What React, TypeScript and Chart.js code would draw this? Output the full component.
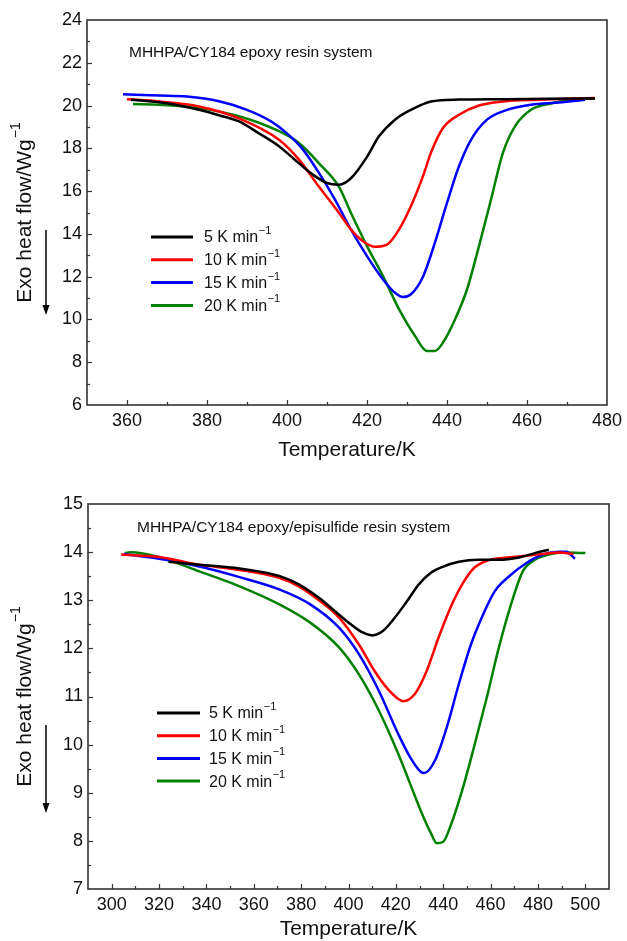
import React, { useEffect, useRef } from "react";
import { Chart, registerables } from "chart.js";

Chart.register(...registerables);

const seriesLabels = ["5 K min", "10 K min", "15 K min", "20 K min"];
const seriesColors = ["#000000", "#ff0000", "#0000ff", "#008000"];

// ---- Top chart: MHHPA/CY184 epoxy resin system ----
const topT5 = [361, 368, 373, 378, 383, 388, 393, 398, 403, 407, 410, 413, 416, 420, 423, 427, 431, 436, 443, 455, 465, 477];
const topV5 = [20.27, 20.15, 20.0, 19.8, 19.55, 19.26, 18.7, 18.1, 17.3, 16.7, 16.38, 16.3, 16.6, 17.6, 18.56, 19.34, 19.8, 20.19, 20.28, 20.3, 20.32, 20.33];
const topT10 = [360, 368, 378, 388, 398, 403, 408, 413, 416, 419, 422, 425, 428, 431, 434, 436, 439, 443, 448, 454, 463, 477];
const topV10 = [20.3, 20.19, 19.96, 19.4, 18.4, 17.47, 16.2, 14.98, 14.2, 13.66, 13.4, 13.5, 14.2, 15.3, 16.7, 17.8, 18.95, 19.57, 20.0, 20.19, 20.27, 20.35];
const topT15 = [359, 368, 375, 383, 390, 396, 400, 404, 408, 412, 416, 420, 424, 427, 429, 431, 434, 437, 440, 443, 446, 450, 455, 461, 468, 474.5];
const topV15 = [20.53, 20.47, 20.42, 20.2, 19.8, 19.26, 18.7, 17.94, 16.85, 15.6, 14.2, 12.96, 11.87, 11.25, 11.05, 11.18, 12.0, 13.6, 15.45, 17.16, 18.4, 19.34, 19.8, 20.04, 20.14, 20.27];
const topT20 = [361.5, 368, 378, 388, 398, 403, 408, 413, 416, 420, 424, 428, 432, 435, 437, 439, 442, 445, 448, 451, 454, 457, 461, 466, 471, 477];
const topV20 = [20.07, 20.04, 19.88, 19.5, 18.8, 18.25, 17.3, 16.2, 14.98, 13.43, 12.03, 10.48, 9.23, 8.53, 8.53, 8.92, 10.0, 11.4, 13.43, 15.6, 17.8, 19.03, 19.8, 20.1, 20.27, 20.33];

// ---- Bottom chart: MHHPA/CY184 epoxy/episulfide resin system ----
const botT5 = [324, 337, 354, 362, 371, 379, 387.5, 396, 401, 406, 410, 414.5, 419.6, 424.7, 429.7, 434.8, 440, 446.6, 455, 463.5, 472, 478.7, 484.6];
const botV5 = [13.8, 13.74, 13.66, 13.6, 13.5, 13.33, 13.05, 12.7, 12.5, 12.33, 12.27, 12.36, 12.64, 12.98, 13.33, 13.57, 13.7, 13.8, 13.84, 13.84, 13.89, 13.98, 14.05];
const botT10 = [304, 320, 337, 354, 371, 379, 387.5, 396, 404.4, 411, 416, 421, 423, 428, 433, 438, 443, 448, 453, 458.4, 465, 472, 482, 489, 495];
const botV10 = [13.95, 13.9, 13.74, 13.63, 13.46, 13.29, 13.0, 12.64, 12.08, 11.53, 11.19, 10.95, 10.9, 11.05, 11.53, 12.22, 12.84, 13.33, 13.67, 13.82, 13.88, 13.91, 13.96, 13.99, 13.96];
const botT15 = [305, 320, 337, 354, 371, 384, 396, 404.4, 412.8, 421, 426, 430.6, 432, 436.5, 441.5, 446.6, 451.7, 456.8, 461.8, 468.6, 475, 482, 489, 492, 495.6];
const botV15 = [13.96, 13.86, 13.7, 13.48, 13.22, 12.91, 12.43, 11.88, 11.12, 10.22, 9.74, 9.43, 9.41, 9.67, 10.36, 11.26, 12.08, 12.7, 13.19, 13.53, 13.77, 13.95, 14.01, 14.01, 13.86];
const botT20 = [305.6, 308, 320, 337, 354, 371, 384, 396, 404.4, 412.8, 421, 426, 431, 434.8, 437.3, 440, 443, 448, 453, 458.4, 463.5, 468.6, 473.6, 478.7, 485.5, 492, 500];
const botV20 = [13.98, 14.0, 13.9, 13.6, 13.29, 12.91, 12.53, 12.02, 11.46, 10.71, 9.81, 9.19, 8.57, 8.16, 7.95, 7.98, 8.3, 9.05, 9.95, 10.98, 12.02, 12.91, 13.6, 13.84, 13.96, 13.99, 13.98];

const FONT = "'Liberation Sans', Arial, Helvetica, sans-serif";

type Series = { t: number[]; v: number[] };

type PanelCfg = {
  height: number;
  padTop: number;
  xAxisH: number;
  yAxisW: number;
  xMin: number;
  xMax: number;
  yMin: number;
  yMax: number;
  yStep: number;
  yLabelEvery: number;
  series: Series[];
  note: string;
  noteX: number;
  noteY: number;
  legendX1: number;
  legendX2: number;
  legendTextX: number;
  legendY: number;
  legendDy: number;
  arrowTop: number;
  arrowBottom: number;
  xTitleY: number;
};

const decorPlugin = {
  id: "decor",
  afterDraw(chart: any, _args: any, opts: any) {
    const ctx: CanvasRenderingContext2D = chart.ctx;
    const a = chart.chartArea;
    const xs = chart.scales.x;
    const ys = chart.scales.y;
    const cfg: PanelCfg = opts.cfg;
    ctx.save();
    // ticks (inward)
    ctx.strokeStyle = "#333";
    ctx.lineWidth = 1.2;
    xs.ticks.forEach((t: any) => {
      if (t.value <= cfg.xMin || t.value >= cfg.xMax) return;
      const px = Math.round(xs.getPixelForValue(t.value)) + 0.5;
      const len = t.label !== "" ? 5 : 3;
      ctx.beginPath();
      ctx.moveTo(px, a.bottom);
      ctx.lineTo(px, a.bottom - len);
      ctx.stroke();
    });
    ys.ticks.forEach((t: any) => {
      if (t.value <= cfg.yMin + 1e-6 || t.value >= cfg.yMax - 1e-6) return;
      const py = Math.round(ys.getPixelForValue(t.value)) + 0.5;
      const len = t.label !== "" ? 5 : 3;
      ctx.beginPath();
      ctx.moveTo(a.left, py);
      ctx.lineTo(a.left + len, py);
      ctx.stroke();
    });
    // frame
    ctx.strokeStyle = "#333";
    ctx.lineWidth = 1.6;
    ctx.strokeRect(a.left, a.top, a.right - a.left, a.bottom - a.top);

    // note
    ctx.fillStyle = "#111";
    ctx.font = `15.5px ${FONT}`;
    ctx.textAlign = "left";
    ctx.textBaseline = "middle";
    ctx.fillText(cfg.note, cfg.noteX, cfg.noteY);

    // legend
    cfg.series.forEach((_s, i) => {
      const y = cfg.legendY + i * cfg.legendDy;
      ctx.strokeStyle = seriesColors[i];
      ctx.lineWidth = 3;
      ctx.beginPath();
      ctx.moveTo(cfg.legendX1, y);
      ctx.lineTo(cfg.legendX2, y);
      ctx.stroke();
      ctx.fillStyle = "#111";
      ctx.font = `16px ${FONT}`;
      ctx.textAlign = "left";
      ctx.textBaseline = "middle";
      ctx.fillText(seriesLabels[i], cfg.legendTextX, y + 1);
      const w = ctx.measureText(seriesLabels[i]).width;
      ctx.font = `11px ${FONT}`;
      ctx.fillText("\u22121", cfg.legendTextX + w + 0.5, y - 6);
    });

    // x title
    ctx.fillStyle = "#111";
    ctx.font = `21px ${FONT}`;
    ctx.textAlign = "center";
    ctx.textBaseline = "middle";
    ctx.fillText("Temperature/K", (a.left + a.right) / 2, cfg.xTitleY);

    // y title rotated with superscript
    const cy = (a.top + a.bottom) / 2;
    ctx.save();
    ctx.translate(25, cy);
    ctx.rotate(-Math.PI / 2);
    ctx.font = `21px ${FONT}`;
    const main = "Exo heat flow/Wg";
    const mw = ctx.measureText(main).width;
    ctx.font = `14px ${FONT}`;
    const sw = ctx.measureText("\u22121").width;
    const start = -(mw + sw + 1) / 2;
    ctx.textAlign = "left";
    ctx.textBaseline = "middle";
    ctx.font = `21px ${FONT}`;
    ctx.fillText(main, start, 0);
    ctx.font = `14px ${FONT}`;
    ctx.fillText("\u22121", start + mw + 1, -9);
    ctx.restore();

    // arrow
    const ax = 46;
    ctx.strokeStyle = "#000";
    ctx.fillStyle = "#000";
    ctx.lineWidth = 1.5;
    ctx.beginPath();
    ctx.moveTo(ax, cfg.arrowTop);
    ctx.lineTo(ax, cfg.arrowBottom - 8);
    ctx.stroke();
    ctx.beginPath();
    ctx.moveTo(ax - 3.5, cfg.arrowBottom - 10);
    ctx.lineTo(ax + 3.5, cfg.arrowBottom - 10);
    ctx.lineTo(ax, cfg.arrowBottom);
    ctx.closePath();
    ctx.fill();

    ctx.restore();
  },
};

function Panel({ cfg }: { cfg: PanelCfg }) {
  const ref = useRef<HTMLCanvasElement>(null);
  useEffect(() => {
    const tickFont = { family: FONT, size: 18 };
    const chart = new Chart(ref.current as HTMLCanvasElement, {
      type: "line",
      data: {
        datasets: cfg.series.map((s, i) => ({
          label: seriesLabels[i],
          data: s.t.map((t, j) => ({ x: t, y: s.v[j] })),
          borderColor: seriesColors[i],
          backgroundColor: seriesColors[i],
          borderWidth: 2.5,
          pointRadius: 0,
          tension: 0.4,
          cubicInterpolationMode: "monotone" as const,
          fill: false,
        })),
      },
      options: {
        animation: false,
        responsive: false,
        events: [],
        layout: { padding: { top: cfg.padTop, right: 18, left: 0, bottom: 0 } },
        plugins: {
          legend: { display: false },
          tooltip: { enabled: false },
          decor: { cfg },
        } as any,
        scales: {
          x: {
            type: "linear",
            min: cfg.xMin,
            max: cfg.xMax,
            grid: { display: false, drawTicks: false },
            border: { display: false },
            afterFit: (s: any) => {
              s.height = cfg.xAxisH;
            },
            ticks: {
              stepSize: 10,
              autoSkip: false,
              maxRotation: 0,
              padding: 5,
              color: "#111",
              font: tickFont,
              callback: (v: any) => (Math.round(v) % 20 === 0 ? String(v) : ""),
            },
          },
          y: {
            type: "linear",
            min: cfg.yMin,
            max: cfg.yMax,
            grid: { display: false, drawTicks: false },
            border: { display: false },
            afterFit: (s: any) => {
              s.width = cfg.yAxisW;
            },
            ticks: {
              stepSize: cfg.yStep,
              autoSkip: false,
              padding: 5,
              color: "#111",
              font: tickFont,
              callback: (v: any) => {
                const n = Number(v);
                const r = n / cfg.yLabelEvery;
                return Math.abs(r - Math.round(r)) < 1e-6 ? String(Math.round(n)) : "";
              },
            },
          },
        },
      } as any,
      plugins: [decorPlugin],
    });
    return () => chart.destroy();
  }, []);
  return <canvas ref={ref} width={627} height={cfg.height} style={{ display: "block" }} />;
}

const topCfg: PanelCfg = {
  height: 470,
  padTop: 20,
  xAxisH: 65,
  yAxisW: 87,
  xMin: 350,
  xMax: 480,
  yMin: 6,
  yMax: 24,
  yStep: 1,
  yLabelEvery: 2,
  series: [
    { t: topT5, v: topV5 },
    { t: topT10, v: topV10 },
    { t: topT15, v: topV15 },
    { t: topT20, v: topV20 },
  ],
  note: "MHHPA/CY184 epoxy resin system",
  noteX: 129,
  noteY: 53,
  legendX1: 151,
  legendX2: 193,
  legendTextX: 204,
  legendY: 237,
  legendDy: 22.8,
  arrowTop: 230,
  arrowBottom: 315,
  xTitleY: 450,
};

const botCfg: PanelCfg = {
  height: 471,
  padTop: 34,
  xAxisH: 52,
  yAxisW: 88,
  xMin: 290,
  xMax: 510,
  yMin: 7,
  yMax: 15,
  yStep: 0.5,
  yLabelEvery: 1,
  series: [
    { t: botT5, v: botV5 },
    { t: botT10, v: botV10 },
    { t: botT15, v: botV15 },
    { t: botT20, v: botV20 },
  ],
  note: "MHHPA/CY184 epoxy/episulfide resin system",
  noteX: 137,
  noteY: 58,
  legendX1: 157,
  legendX2: 200,
  legendTextX: 209,
  legendY: 243,
  legendDy: 22.7,
  arrowTop: 255,
  arrowBottom: 343,
  xTitleY: 459,
};

export default function App() {
  return (
    <div style={{ position: "absolute", left: 0, top: 0, width: 627, height: 941, background: "#fff" }}>
      <Panel cfg={topCfg} />
      <Panel cfg={botCfg} />
    </div>
  );
}
